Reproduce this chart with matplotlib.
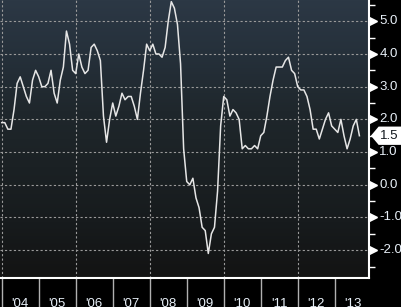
import numpy as np
import matplotlib
matplotlib.use("Agg")
import matplotlib.pyplot as plt
import matplotlib.transforms as mtransforms
from matplotlib.patches import Polygon

# Monthly YoY values, Dec 2003 .. Aug 2013
values = [1.9,
          1.9, 1.7, 1.7, 2.3, 3.1, 3.3, 3.0, 2.7, 2.5, 3.2, 3.5, 3.3,   # 2004
          3.0, 3.0, 3.1, 3.5, 2.8, 2.5, 3.2, 3.6, 4.7, 4.3, 3.5, 3.4,   # 2005
          4.0, 3.6, 3.4, 3.5, 4.2, 4.3, 4.1, 3.8, 2.1, 1.3, 2.0, 2.5,   # 2006
          2.1, 2.4, 2.8, 2.6, 2.7, 2.7, 2.4, 2.0, 2.8, 3.5, 4.3, 4.1,   # 2007
          4.3, 4.0, 4.0, 3.9, 4.2, 5.0, 5.6, 5.4, 4.9, 3.7, 1.1, 0.1,   # 2008
          0.0, 0.2, -0.4, -0.7, -1.3, -1.4, -2.1, -1.5, -1.3, -0.2, 1.8, 2.7,  # 2009
          2.6, 2.1, 2.3, 2.2, 2.0, 1.1, 1.2, 1.1, 1.1, 1.2, 1.1, 1.5,   # 2010
          1.6, 2.1, 2.7, 3.2, 3.6, 3.6, 3.6, 3.8, 3.9, 3.5, 3.4, 3.0,   # 2011
          2.9, 2.9, 2.7, 2.3, 1.7, 1.7, 1.4, 1.7, 2.0, 2.2, 1.8, 1.7,   # 2012
          1.6, 2.0, 1.5, 1.1, 1.4, 1.8, 2.0, 1.5]                       # 2013
years = list(range(2004, 2014))
year_labels = ["'04", "'05", "'06", "'07", "'08", "'09", "'10", "'11", "'12", "'13"]
y_ticks = [5.0, 4.0, 3.0, 2.0, 1.0, 0.0, -1.0, -2.0]
last_value = values[-1]

# end-of-month dates as decimal years
x = 2004 + np.arange(len(values)) / 12.0

plt.rcParams['font.family'] = ['Liberation Sans', 'DejaVu Sans']

fig = plt.figure(figsize=(4.02, 3.07), dpi=100, facecolor='black')
ax = fig.add_axes([0, 0.0945, 0.918, 0.9055])

x0, x1 = 2003.954, 2013.927
y0, y1 = -2.85, 5.65

# background gradient, lighter at top
grad = np.linspace(0, 1, 256).reshape(-1, 1)
cmap = matplotlib.colors.LinearSegmentedColormap.from_list(
    'bg', [(0, '#2c3845'), (0.2, '#25303a'), (0.4, '#1f272c'),
           (0.6, '#1b2124'), (0.8, '#171b1d'), (1, '#131313')])
ax.imshow(grad, aspect='auto', cmap=cmap, extent=[x0, x1, y0, y1],
          origin='upper', zorder=0)

# grid
for yv in y_ticks:
    ax.axhline(yv, color='#9a9a9a', lw=0.8, ls=(0, (2, 2)), zorder=1)
for yr in years[::2]:
    ax.axvline(yr, color='#9a9a9a', lw=0.8, ls=(0, (2, 2)), zorder=1)

ax.plot(x, values, color='#e6e6e6', lw=1.1, zorder=3)

ax.set_xlim(x0, x1)
ax.set_ylim(y0, y1)

for s in ['left', 'top']:
    ax.spines[s].set_visible(False)
for s in ['right', 'bottom']:
    ax.spines[s].set_color('white')
    ax.spines[s].set_linewidth(1.5)

# bottom ticks: long gray lines, labels centered in each year
ax.set_xticks(years)
ax.set_xticklabels([])
ax.tick_params(axis='x', direction='out', length=22, width=1, color='#b0b0b0')
trans_x = mtransforms.blended_transform_factory(ax.transData, fig.transFigure)
for yr, lab in zip(years, year_labels):
    fig.text(yr + 0.5, 0.028, lab, transform=trans_x, ha='center', va='top',
             color='#e8f0f8', fontsize=9.5)

# right axis: minor ticks, triangles at majors
ax.yaxis.tick_right()
ax.set_yticks([])
ax.set_yticks(np.arange(-2.5, 5.6, 1.0), minor=True)
ax.tick_params(axis='y', which='minor', direction='out', length=4, width=1, color='white')
trans_y = mtransforms.blended_transform_factory(ax.transAxes, ax.transData)
ax.plot([1.011] * len(y_ticks), y_ticks, marker='>', ls='none', color='white',
        markersize=5.5, transform=trans_y, clip_on=False)
for yv in y_ticks:
    if abs(yv - 1.5) < 0.3:
        continue
    ax.text(1.028, yv, f"{yv:.1f}", transform=trans_y, ha='left', va='center',
            color='#e8f0f8', fontsize=9.5)

# last value flag
flag = Polygon([(1.005, last_value), (1.026, last_value + 0.28), (1.09, last_value + 0.28),
                (1.09, last_value - 0.28), (1.026, last_value - 0.28)],
               closed=True, facecolor='white', edgecolor='none',
               transform=trans_y, clip_on=False, zorder=5)
ax.add_patch(flag)
ax.text(1.056, last_value, f"{last_value:.1f}", transform=trans_y, ha='center', va='center',
        color='#10161c', fontsize=9.5, zorder=6)

fig.savefig('out.png', dpi=100, facecolor='black')
